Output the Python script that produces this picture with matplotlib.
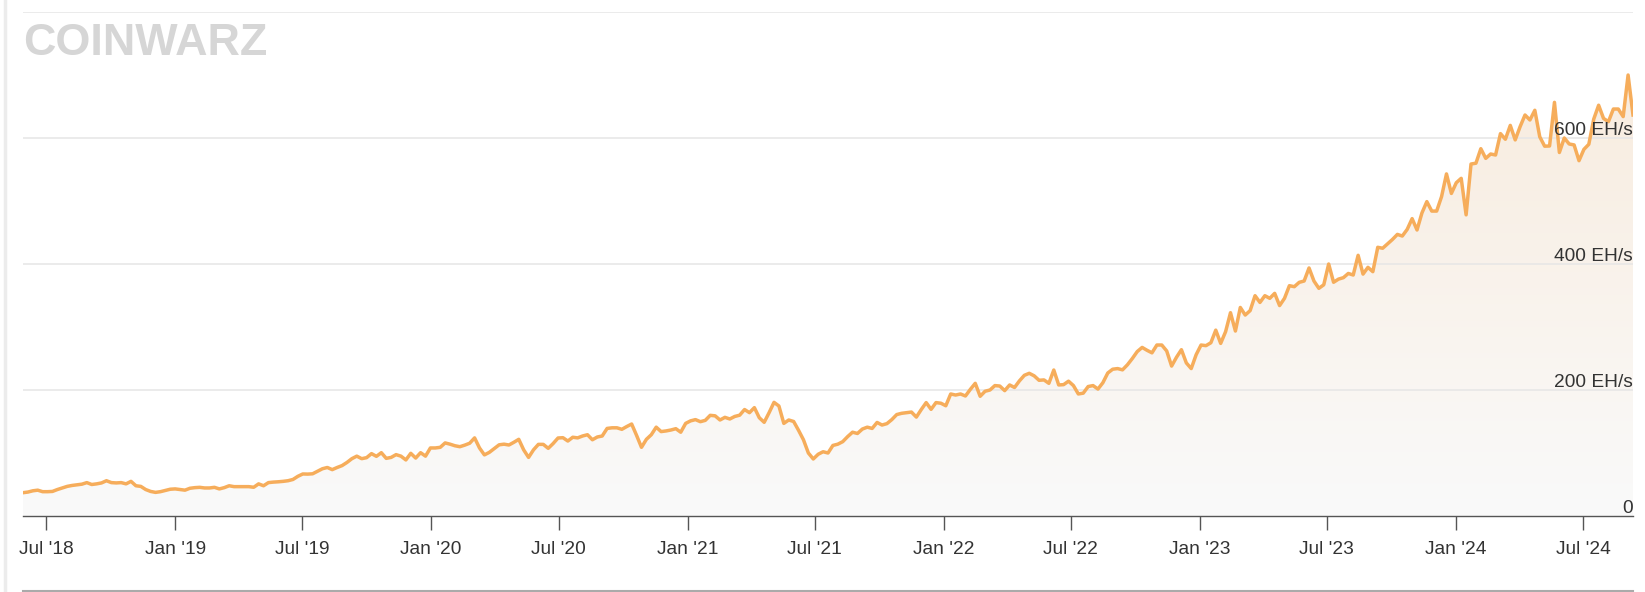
import numpy as np
import pandas as pd
import matplotlib
matplotlib.use('Agg')
import matplotlib.pyplot as plt
import matplotlib.dates as mdates
import matplotlib.transforms as mtransforms
from matplotlib.lines import Line2D

# weekly bitcoin network hashrate in EH/s, first sample on start_date
start_date = '2018-05-29'
hashrate = [
    37, 38, 40, 41, 38.6, 38.6, 39, 42, 44.5, 47, 48.5, 49.5, 50.5, 53, 50, 51,
    52.5, 56, 53, 52.5, 53, 51, 55, 48, 47, 42, 39, 37.5, 38.6, 40.5, 42.5, 43,
    42, 41, 44, 45, 45.5, 44.5, 44.5, 45.5, 43, 45, 48, 46.6, 46.6, 46.6, 46.6, 45.6,
    51, 48, 53, 53.8, 54.3, 55, 56, 58, 63,
    66.7, 66.5, 67, 71, 75, 77, 73.6, 77, 80, 85, 91, 95, 91, 92.6, 99, 94.7,
    100.5, 91.5, 93, 97.4, 95, 89, 99.5, 92, 100.5, 95, 108, 108, 109, 116, 114, 111.5,
    110, 112.5, 115.5, 124, 108, 97, 101, 107, 113, 114, 112.7, 117, 121.7, 105, 93, 105,
    113.7, 113.7, 107.4, 115, 123.8, 124.3, 119,
    125, 124, 127, 129, 121, 125.4, 127, 139, 140, 140, 137.6, 142, 146, 128, 109, 121.7,
    129, 141, 134, 135, 136.5, 138.6, 133, 147, 151, 153, 149.7, 151.8, 159.8, 159, 152.4, 156.6,
    154, 158, 160, 169, 164, 172, 156, 148.7, 164, 180.4, 174.6, 147, 152.4, 150, 136, 121,
    100, 90.5, 98, 102, 100, 112, 114,
    118, 126, 133, 131, 138, 141, 139, 148.5, 144.4, 146.6, 153, 161, 163, 164, 165, 157,
    169, 180, 169.3, 180, 179, 175, 193.7, 192, 193.7, 190.5, 201, 210.6, 190, 198, 200, 207,
    206.3, 199, 208, 204, 214.5, 223.3, 226.5, 222.5, 215.4, 216, 210.6, 231.7, 208, 208.5, 214, 207,
    193.7, 195, 205.5, 207, 201.5, 211.6, 227,
    233, 234, 232, 240, 250, 261, 267.6, 263, 259, 271.4, 271.4, 262, 238, 252, 264, 243,
    234, 256, 271.4, 270.4, 275, 295, 274, 292.6, 322.7, 293.6, 331, 319, 326, 349.7, 339, 349.7,
    345.5, 353.4, 334, 345.5, 365.6, 364, 370.9, 373, 393.7, 373, 361.4, 367, 400, 371, 376, 378.3,
    385, 382.5, 413.8, 384, 394.7, 387.8, 426.5,
    425, 432, 439, 447, 444.4, 455, 472, 454, 481, 499, 484, 484, 507, 543, 512, 529,
    536, 478, 558.7, 560, 583, 567.7, 574.6, 573, 607, 598, 620, 597, 618, 636.5, 628.6, 644,
    602, 587, 587.3, 656.6, 577, 600, 590.5, 589, 564, 582, 590, 630, 652, 631, 626, 646,
    646, 634, 700, 636.5,
]
grid_levels = [200, 400, 600, 800]
label_levels = [0, 200, 400, 600]
label_texts = ['0', '200 EH/s', '400 EH/s', '600 EH/s']

plt.rcParams['font.family'] = ['Liberation Sans', 'DejaVu Sans']

dates = pd.date_range(start_date, periods=len(hashrate), freq='7D')
x = mdates.date2num(dates)

W, H = 1645, 592
fig = plt.figure(figsize=(W / 100, H / 100), dpi=100)
ax = fig.add_axes([23 / W, 76 / H, 1610 / W, 504 / H])

# area under the line: soft orange at the top fading to light grey
poly = ax.fill_between(x, hashrate, 0, color='none', lw=0)
top = np.array([248, 234, 219]) / 255
bot = np.array([250, 250, 250]) / 255
t = np.linspace(0, 1, 256).reshape(-1, 1, 1)
grad = bot + (top - bot) * t
im = ax.imshow(grad, extent=[x[0], x[-1], 0, 800], origin='lower',
               aspect='auto', zorder=1, interpolation='bilinear')
im.set_clip_path(poly.get_paths()[0], transform=ax.transData)

for lv in grid_levels:
    ax.axhline(lv, color='#e6e6e6', lw=1.1, zorder=1.5)

ax.plot(x, hashrate, color='#f6ad5b', lw=2.5, zorder=3, solid_joinstyle='round')

ax.set_xlim(x[0], x[-1])
ax.set_ylim(0, 800)

for s in ['top', 'left', 'right']:
    ax.spines[s].set_visible(False)
ax.spines['bottom'].set_color('#555555')
ax.spines['bottom'].set_linewidth(1)
ax.spines['bottom'].set_zorder(4)

ax.set_yticks([])
ax.xaxis.set_major_locator(mdates.MonthLocator(bymonth=[1, 7]))
ax.xaxis.set_major_formatter(mdates.DateFormatter("%b '%y"))
ax.tick_params(axis='x', length=10, width=1, color='#555555', labelsize=13.8,
               labelcolor='#333333', pad=8)

# y labels sit inside the plot, right aligned just above their grid line
lab_tr = mtransforms.offset_copy(ax.get_yaxis_transform(), fig=fig, x=0, y=3, units='dots')
for lv, txt in zip(label_levels, label_texts):
    ax.text(1.0, lv, txt, transform=lab_tr, ha='right', va='baseline',
            fontsize=13.8, color='#333333', zorder=5)

# watermark
wm = fig.text(23 / W, 1 - 55 / H, 'COINWARZ', color='#d6d6d6', weight='bold',
              family=['Liberation Sans Narrow', 'Liberation Sans', 'DejaVu Sans'],
              fontsize=40, va='baseline', ha='left')
fig.canvas.draw()
w = wm.get_window_extent().width
wm.set_fontsize(40 * 244 / w)

# page frame
fig.add_artist(Line2D([5 / W, 5 / W], [0, 1], color='#ececec', lw=2.5))
fig.add_artist(Line2D([23 / W, 1633 / W], [1.5 / H, 1.5 / H], color='#aaaaaa', lw=1.5))

fig.savefig('out.png', dpi=100)
